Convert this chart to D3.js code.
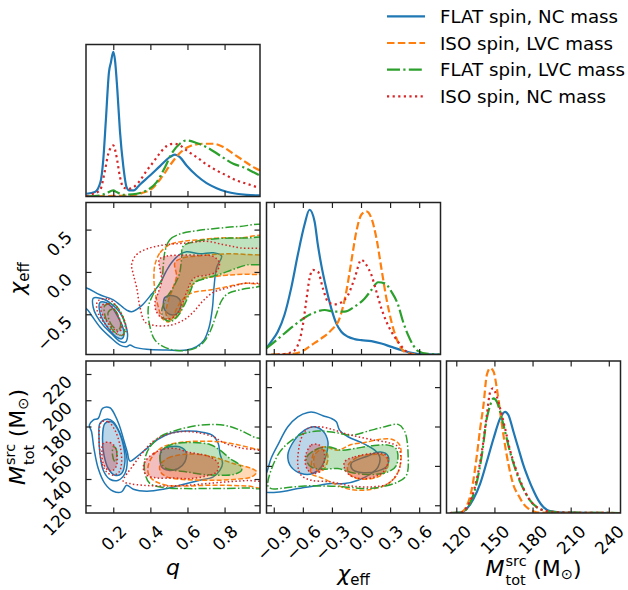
<!DOCTYPE html>
<html><head><meta charset="utf-8">
<script src="https://cdn.jsdelivr.net/npm/d3@7"></script>
<style>
html,body{margin:0;padding:0;background:#fff;}
svg{display:block;}
</style></head><body>
<svg id="chart" width="628" height="590"></svg>
<script>
// ---------------- DATA ----------------
const seriesNames = ["FLAT spin, NC mass", "ISO spin, LVC mass", "FLAT spin, LVC mass", "ISO spin, NC mass"];

// axis limits and ticks
const qLimits = [0.053, 0.991];
const chiLimits = [-0.975, 0.82];
const mLimitsX = [112.3, 249.2];
const mLimitsY = [114.1, 229.9];
const qTicks = [0.2, 0.4, 0.6, 0.8];
const chiTicksX = [-0.9, -0.6, -0.3, 0.0, 0.3, 0.6];
const chiTicksY = [-0.5, 0.0, 0.5];
const mTicksX = [120, 150, 180, 210, 240];
const mTicksYcol1 = [120, 140, 160, 180, 200, 220];
const mTicksYcol2 = [120, 150, 180, 210];

// 1D marginals: [value, relative density]
const margQ_flatNC = [[0.056,0.018],[0.101,0.029],[0.131,0.095],[0.146,0.24],[0.160,0.5],[0.177,0.82],[0.187,0.88],[0.2,0.952],[0.209,0.9],[0.222,0.70],[0.236,0.43],[0.254,0.2],[0.272,0.06],[0.286,0.04],[0.31,0.04],[0.344,0.079],[0.398,0.138],[0.452,0.2],[0.505,0.259],[0.532,0.275],[0.559,0.259],[0.595,0.204],[0.649,0.138],[0.703,0.088],[0.757,0.055],[0.811,0.031],[0.865,0.018],[0.919,0.011],[0.99,0.007]];
const margQ_isoLVC = [[0.056,0.0],[0.2,0.004],[0.29,0.007],[0.353,0.022],[0.407,0.05],[0.461,0.127],[0.505,0.204],[0.559,0.286],[0.613,0.33],[0.685,0.347],[0.739,0.347],[0.793,0.325],[0.847,0.281],[0.901,0.237],[0.955,0.193],[0.991,0.171]];
const margQ_flatLVC = [[0.056,0.0],[0.128,0.007],[0.164,0.022],[0.2,0.04],[0.218,0.029],[0.254,0.011],[0.326,0.018],[0.38,0.04],[0.434,0.095],[0.479,0.193],[0.514,0.281],[0.559,0.347],[0.595,0.369],[0.649,0.352],[0.703,0.325],[0.775,0.27],[0.847,0.215],[0.901,0.193],[0.955,0.16],[0.991,0.138]];
const margQ_isoNC = [[0.056,0.0],[0.092,0.018],[0.128,0.04],[0.155,0.17],[0.173,0.28],[0.2,0.336],[0.218,0.26],[0.236,0.13],[0.254,0.06],[0.281,0.05],[0.308,0.06],[0.344,0.105],[0.38,0.17],[0.416,0.226],[0.452,0.286],[0.488,0.332],[0.523,0.347],[0.559,0.336],[0.595,0.303],[0.649,0.259],[0.703,0.211],[0.757,0.171],[0.811,0.138],[0.865,0.105],[0.919,0.084],[0.973,0.062]];

const margChi_flatNC = [[-0.979,0.039],[-0.928,0.083],[-0.859,0.149],[-0.79,0.259],[-0.721,0.434],[-0.652,0.654],[-0.583,0.851],[-0.531,0.95],[-0.479,0.873],[-0.445,0.719],[-0.41,0.588],[-0.359,0.434],[-0.307,0.303],[-0.255,0.204],[-0.203,0.149],[-0.134,0.116],[-0.066,0.101],[0.003,0.094],[0.107,0.088],[0.21,0.072],[0.314,0.05],[0.417,0.029],[0.521,0.011],[0.624,0.002],[0.814,0]];
const margChi_isoLVC = [[-0.928,0],[-0.721,0.004],[-0.617,0.018],[-0.514,0.061],[-0.41,0.105],[-0.307,0.16],[-0.221,0.237],[-0.152,0.412],[-0.1,0.61],[-0.048,0.807],[0.003,0.917],[0.055,0.939],[0.107,0.895],[0.159,0.763],[0.21,0.566],[0.262,0.368],[0.314,0.215],[0.366,0.105],[0.417,0.039],[0.486,0.007],[0.59,0]];
const margChi_flatLVC = [[-0.979,0.039],[-0.893,0.083],[-0.79,0.138],[-0.686,0.193],[-0.583,0.241],[-0.479,0.276],[-0.376,0.292],[-0.272,0.281],[-0.169,0.281],[-0.066,0.314],[0.038,0.368],[0.107,0.423],[0.176,0.474],[0.245,0.467],[0.314,0.412],[0.383,0.325],[0.434,0.215],[0.486,0.127],[0.538,0.061],[0.59,0.022],[0.693,0.004],[0.814,0]];
const margChi_isoNC = [[-0.859,0],[-0.721,0.013],[-0.652,0.061],[-0.6,0.193],[-0.566,0.346],[-0.531,0.5],[-0.497,0.555],[-0.445,0.544],[-0.393,0.434],[-0.341,0.346],[-0.272,0.329],[-0.203,0.342],[-0.134,0.39],[-0.066,0.5],[0.003,0.621],[0.055,0.588],[0.107,0.522],[0.159,0.412],[0.21,0.303],[0.262,0.215],[0.314,0.149],[0.383,0.083],[0.452,0.029],[0.521,0]];

const margM_flatNC = [[115,0],[123.1,0.002],[128.4,0.029],[133.6,0.094],[138.8,0.193],[144.0,0.336],[149.3,0.489],[154.5,0.621],[158.4,0.664],[161.0,0.643],[165.0,0.533],[168.9,0.423],[172.8,0.314],[176.7,0.226],[180.6,0.149],[184.6,0.083],[188.5,0.039],[193.7,0.013],[201.6,0.004],[212.0,0.002],[249,0]];
const margM_isoLVC = [[115,0],[123.1,0.002],[128.4,0.05],[132.3,0.16],[136.2,0.379],[138.8,0.555],[141.4,0.708],[144.0,0.906],[146.7,0.95],[149.3,0.928],[151.9,0.818],[154.5,0.664],[157.1,0.511],[159.7,0.379],[162.3,0.27],[165.0,0.182],[168.9,0.116],[172.8,0.061],[176.7,0.029],[180.6,0.011],[185.9,0.002],[249,0]];
const margM_flatLVC = [[115,0],[123.1,0.002],[128.4,0.029],[132.3,0.094],[136.2,0.204],[140.1,0.379],[144.0,0.62],[146.7,0.708],[149.3,0.752],[151.9,0.73],[154.5,0.664],[158.4,0.533],[162.3,0.401],[166.3,0.292],[170.2,0.204],[174.1,0.138],[178.0,0.083],[183.3,0.039],[188.5,0.018],[196.3,0.007],[212.0,0.002],[249,0]];
const margM_isoNC = [[115,0],[123.1,0.002],[128.4,0.039],[132.3,0.105],[136.2,0.226],[140.1,0.401],[144.0,0.642],[146.7,0.796],[148.8,0.818],[151.9,0.763],[154.5,0.686],[158.4,0.555],[162.3,0.412],[166.3,0.303],[170.2,0.215],[174.1,0.138],[178.0,0.083],[183.3,0.039],[188.5,0.018],[196.3,0.007],[212.0,0.002],[249,0]];

// 2D credible-region contours: [x, y] in data units
// q vs chi_eff
const qChi_flatNC_fill = [
  [[0.128,-0.36],[0.160,-0.36],[0.191,-0.41],[0.222,-0.52],[0.248,-0.63],[0.258,-0.74],[0.245,-0.79],[0.218,-0.77],[0.185,-0.70],[0.152,-0.60],[0.128,-0.48]],
  [[0.479,-0.300],[0.523,-0.280],[0.556,-0.319],[0.563,-0.416],[0.541,-0.494],[0.505,-0.502],[0.479,-0.455],[0.470,-0.377]]
];
const qChi_flatNC_lines = [
  [[0.092,-0.31],[0.146,-0.32],[0.191,-0.38],[0.236,-0.48],[0.266,-0.62],[0.277,-0.76],[0.266,-0.83],[0.236,-0.82],[0.191,-0.73],[0.146,-0.63],[0.110,-0.52],[0.092,-0.42]],
  [[0.0,-0.16],[0.056,-0.19],[0.128,-0.27],[0.2,-0.33],[0.272,-0.45],[0.299,-0.47],[0.353,-0.397],[0.407,-0.261],[0.452,-0.136],[0.484,0.004],[0.514,0.109],[0.559,0.206],[0.595,0.237],[0.667,0.214],[0.739,0.226],[0.784,0.187],[0.757,0.051],[0.743,-0.183],[0.735,-0.416],[0.717,-0.650],[0.689,-0.805],[0.649,-0.883],[0.595,-0.922],[0.488,-0.922],[0.380,-0.914],[0.317,-0.891],[0.290,-0.864],[0.272,-0.883],[0.236,-0.864],[0.182,-0.767],[0.128,-0.650],[0.083,-0.514],[0.056,-0.436],[0.0,-0.40]]
];
const qChi_isoLVC_fill = [
  [[0.532,0.109],[0.577,0.167],[0.649,0.187],[0.739,0.206],[0.829,0.214],[0.919,0.206],[1.02,0.175],[1.02,-0.008],[0.901,-0.027],[0.811,-0.039],[0.739,-0.058],[0.667,-0.086],[0.622,-0.163],[0.595,-0.280],[0.568,-0.436],[0.541,-0.533],[0.505,-0.564],[0.484,-0.494],[0.497,-0.339],[0.523,-0.183],[0.541,-0.047]]
];
const qChi_isoLVC_lines = [
  [[0.425,0.089],[0.452,0.226],[0.505,0.323],[0.577,0.362],[0.667,0.381],[0.775,0.401],[0.883,0.401],[1.02,0.409],[1.02,-0.113],[0.901,-0.136],[0.811,-0.175],[0.721,-0.214],[0.631,-0.241],[0.577,-0.319],[0.541,-0.436],[0.523,-0.533],[0.497,-0.591],[0.466,-0.553],[0.443,-0.416],[0.425,-0.222],[0.419,-0.066]]
];
const qChi_flatLVC_fill = [
  [[0.577,0.304],[0.649,0.362],[0.739,0.389],[0.829,0.401],[0.919,0.401],[1.02,0.393],[1.02,0.109],[0.919,0.082],[0.847,0.031],[0.775,-0.027],[0.703,-0.074],[0.640,-0.125],[0.613,-0.241],[0.586,-0.377],[0.550,-0.514],[0.514,-0.580],[0.479,-0.564],[0.461,-0.475],[0.479,-0.339],[0.523,-0.183],[0.556,-0.027],[0.568,0.148]]
];
const qChi_flatLVC_lines = [
  [[0.479,0.245],[0.505,0.381],[0.559,0.448],[0.649,0.487],[0.775,0.518],[0.883,0.537],[1.02,0.537],[1.02,-0.125],[0.901,-0.202],[0.820,-0.253],[0.784,-0.339],[0.757,-0.494],[0.725,-0.689],[0.689,-0.825],[0.640,-0.903],[0.559,-0.930],[0.479,-0.891],[0.425,-0.805],[0.398,-0.650],[0.389,-0.416],[0.416,-0.261],[0.461,-0.086],[0.470,0.089]],
  [[0.155,-0.397],[0.2,-0.377],[0.245,-0.494],[0.263,-0.650],[0.250,-0.747],[0.218,-0.728],[0.178,-0.630],[0.155,-0.514]],
  [[0.173,-0.475],[0.2,-0.436],[0.227,-0.514],[0.240,-0.630],[0.227,-0.689],[0.2,-0.650],[0.178,-0.572]]
];
const qChi_isoNC_fill = [
  [[0.448,0.148],[0.488,0.187],[0.559,0.198],[0.649,0.198],[0.739,0.183],[0.772,0.109],[0.757,0.004],[0.703,-0.039],[0.640,-0.066],[0.613,-0.144],[0.592,-0.261],[0.568,-0.397],[0.541,-0.502],[0.505,-0.553],[0.461,-0.541],[0.430,-0.455],[0.425,-0.358],[0.443,-0.241],[0.461,-0.105],[0.452,0.031]],
  [[0.137,-0.397],[0.173,-0.377],[0.209,-0.455],[0.236,-0.572],[0.245,-0.669],[0.227,-0.708],[0.191,-0.650],[0.155,-0.553],[0.134,-0.455]]
];
const qChi_isoNC_lines = [
  [[0.119,-0.339],[0.173,-0.319],[0.227,-0.436],[0.263,-0.591],[0.268,-0.708],[0.245,-0.747],[0.2,-0.708],[0.155,-0.611],[0.119,-0.494],[0.110,-0.397]],
  [[0.299,0.089],[0.326,0.206],[0.398,0.284],[0.488,0.323],[0.595,0.342],[0.703,0.362],[0.793,0.323],[0.883,0.284],[1.02,0.245],[1.02,-0.105],[0.901,-0.136],[0.811,-0.191],[0.739,-0.241],[0.685,-0.339],[0.631,-0.475],[0.577,-0.572],[0.505,-0.630],[0.416,-0.630],[0.371,-0.591],[0.344,-0.416],[0.326,-0.183],[0.308,-0.027]]
];

// q vs total mass
const qM_flatNC_fill = [
  [[0.155,182.3],[0.191,183.6],[0.227,177.2],[0.254,165.8],[0.263,153.1],[0.245,144.2],[0.209,142.9],[0.173,148.0],[0.150,158.2],[0.142,170.9]],
  [[0.461,162.0],[0.505,164.5],[0.559,164.5],[0.592,160.7],[0.586,153.1],[0.550,148.0],[0.497,146.7],[0.461,149.2],[0.452,155.6]]
];
const qM_flatNC_lines = [
  [[0.128,182.3],[0.164,185.6],[0.2,183.6],[0.236,174.7],[0.263,163.2],[0.275,153.1],[0.263,144.2],[0.227,139.1],[0.182,139.8],[0.146,146.7],[0.128,159.4],[0.123,172.2]],
  [[0.071,181.1],[0.092,184.9],[0.119,186.2],[0.142,193.8],[0.182,194.3],[0.209,188.7],[0.232,181.1],[0.254,170.9],[0.275,160.7],[0.290,153.6],[0.326,156.9],[0.380,163.2],[0.443,170.4],[0.505,174.7],[0.595,176.5],[0.685,175.5],[0.739,172.9],[0.766,167.1],[0.775,159.4],[0.789,151.8],[0.775,146.7],[0.739,141.6],[0.667,139.1],[0.559,135.2],[0.470,132.2],[0.380,130.7],[0.308,132.2],[0.272,135.2],[0.245,130.2],[0.2,130.7],[0.155,136.5],[0.119,148.0],[0.096,163.2],[0.083,176.0]]
];
const qM_isoLVC_fill = [
  [[0.452,150.5],[0.497,156.1],[0.577,158.7],[0.667,158.7],[0.757,156.1],[0.847,151.8],[0.937,148.5],[0.973,145.4],[0.946,141.6],[0.865,139.8],[0.775,139.1],[0.667,139.1],[0.559,139.8],[0.488,141.6],[0.455,145.4]]
];
const qM_isoLVC_lines = [
  [[0.389,150.5],[0.416,158.2],[0.470,164.5],[0.559,167.8],[0.667,168.8],[0.775,168.3],[0.865,166.3],[0.955,163.2],[1.02,160.7],[1.02,134.0],[0.919,134.7],[0.811,135.2],[0.703,135.2],[0.595,134.7],[0.488,135.2],[0.416,139.1],[0.389,144.2]]
];
const qM_flatLVC_fill = [
  [[0.452,158.2],[0.479,163.8],[0.541,167.1],[0.631,167.8],[0.721,166.3],[0.775,162.0],[0.829,155.6],[0.883,150.5],[0.892,146.7],[0.847,143.4],[0.775,142.9],[0.685,143.4],[0.595,145.4],[0.523,146.7],[0.479,148.5],[0.455,153.1]]
];
const qM_flatLVC_lines = [
  [[0.371,155.6],[0.398,164.5],[0.452,172.2],[0.541,177.2],[0.649,180.6],[0.739,181.6],[0.811,180.6],[0.883,177.2],[0.955,172.2],[1.02,168.3],[1.02,134.0],[0.919,133.2],[0.793,132.7],[0.703,132.7],[0.595,132.7],[0.488,133.2],[0.398,136.5],[0.371,144.2]],
  [[0.2,164.5],[0.214,163.2],[0.218,155.6],[0.209,153.1],[0.196,158.2]]
];
const qM_isoNC_fill = [
  [[0.146,167.1],[0.182,167.8],[0.209,164.5],[0.221,158.2],[0.218,150.5],[0.2,146.7],[0.173,146.7],[0.146,151.8],[0.139,159.4]],
  [[0.371,153.1],[0.416,159.4],[0.470,162.7],[0.541,163.2],[0.595,160.7],[0.649,159.4],[0.721,156.9],[0.766,151.8],[0.757,145.4],[0.703,142.4],[0.613,140.3],[0.523,140.8],[0.434,140.8],[0.380,142.9],[0.362,148.0]]
];
const qM_isoNC_lines = [
  [[0.137,183.6],[0.173,183.6],[0.209,177.2],[0.236,165.8],[0.245,153.1],[0.232,145.4],[0.2,142.9],[0.164,145.4],[0.137,153.1],[0.125,165.8],[0.125,177.2]],
  [[0.254,138.3],[0.308,150.5],[0.362,160.7],[0.416,168.8],[0.479,173.4],[0.559,176.0],[0.649,175.5],[0.739,172.2],[0.793,167.8],[0.883,163.8],[1.02,159.4],[1.02,139.8],[0.919,138.8],[0.811,137.8],[0.703,136.5],[0.595,135.2],[0.470,134.7],[0.362,135.2],[0.290,136.5]]
];

// chi_eff vs total mass
const chiM_flatNC_fill = [
  [[-0.755,158.2],[-0.686,169.6],[-0.583,177.2],[-0.479,179.8],[-0.393,176.5],[-0.341,168.3],[-0.359,158.2],[-0.410,149.2],[-0.497,144.2],[-0.617,144.2],[-0.721,149.2]]
];
const chiM_flatNC_lines = [
  [[-1.03,140],[-0.979,144.2],[-0.928,155.6],[-0.859,165.8],[-0.755,179.8],[-0.652,187.4],[-0.548,190.7],[-0.479,190.7],[-0.393,188.2],[-0.307,186.2],[-0.255,183.6],[-0.221,177.2],[-0.134,172.2],[0.003,167.8],[0.141,162.0],[0.193,156.9],[0.176,149.2],[0.107,144.2],[-0.031,139.1],[-0.169,136.5],[-0.307,136.5],[-0.479,134.7],[-0.652,132.7],[-0.790,130.7],[-0.928,129.7],[-1.03,131]],
  [[-0.1,152],[0.05,157],[0.2,160.5],[0.28,157.5],[0.27,150],[0.17,146],[0.0,145],[-0.09,147.5]]
];
const chiM_isoLVC_fill = [
  [[-0.479,158.2],[-0.410,162.5],[-0.359,161],[-0.341,155.6],[-0.376,148.0],[-0.428,145.4],[-0.479,149.2]],
  [[-0.134,150.5],[-0.031,156.9],[0.107,158.7],[0.228,158.2],[0.279,154.3],[0.262,146.7],[0.176,141.6],[0.038,139.8],[-0.083,141.6],[-0.134,145.4]]
];
const chiM_isoLVC_lines = [
  [[-0.514,150],[-0.479,161],[-0.376,164.5],[-0.238,162.0],[-0.1,166.3],[0.038,167.8],[0.21,170.4],[0.331,169.9],[0.4,165.8],[0.410,153.1],[0.366,142.9],[0.279,136.5],[0.141,132.7],[-0.031,131.4],[-0.169,133.2],[-0.307,137.5],[-0.410,141],[-0.514,144]]
];
const chiM_flatLVC_fill = [
  [[-0.566,155.6],[-0.479,162.0],[-0.341,164.5],[-0.203,162.0],[-0.066,163.2],[0.107,165.3],[0.279,165.8],[0.366,162.7],[0.366,150.5],[0.279,145.4],[0.107,143.4],[-0.1,144.9],[-0.238,148.0],[-0.376,147.5],[-0.514,149.2]]
];
const chiM_flatLVC_lines = [
  [[-0.962,135.2],[-0.859,158.2],[-0.755,167.1],[-0.617,173.9],[-0.445,176.5],[-0.272,175.5],[-0.1,173.4],[0.072,176.5],[0.245,179.8],[0.383,181.6],[0.452,176.0],[0.486,158.2],[0.469,142.9],[0.383,137.8],[0.21,134.0],[0.038,132.7],[-0.169,134.0],[-0.376,134.7],[-0.583,134.7],[-0.790,133.2],[-0.928,132.7]]
];
const chiM_isoNC_fill = [
  [[-0.566,159.4],[-0.514,165.8],[-0.445,166.3],[-0.393,163.2],[-0.376,155.6],[-0.410,146.7],[-0.479,144.2],[-0.548,146.7],[-0.576,153.1]],
  [[-0.169,153.1],[-0.066,156.9],[0.107,159.4],[0.228,159.4],[0.279,155.6],[0.245,146.7],[0.141,141.6],[0.003,140.3],[-0.117,142.9],[-0.169,148.0]]
];
const chiM_isoNC_lines = [
  [[-0.652,150.5],[-0.617,170.9],[-0.548,178.5],[-0.445,179.8],[-0.307,178.0],[-0.169,174.7],[-0.031,172.2],[0.141,169.6],[0.279,167.8],[0.383,164.5],[0.410,155.6],[0.383,145.4],[0.279,136.5],[0.107,134.0],[-0.1,134.7],[-0.307,137.8],[-0.514,139.1],[-0.617,142.9]]
];

// ---------------- STYLE ----------------
const seriesColors = ["#1f77b4", "#ff7f0e", "#2ca02c", "#d62728"];
const dash1D = [null, "7.5,3.3", "13,3.3,2.2,3.3", "2.2,3.4"];
const dash2D = [null, "5,2.2", "8.5,2.2,1.5,2.2", "1.5,2.3"];
const FONT = "'DejaVu Sans', sans-serif";
const TICK = 5.5, TICKFONT = 17;
const frameColor = "#222";

// ---------------- LAYOUT ----------------
const svg = d3.select("#chart");
const defs = svg.append("defs");
const colX = [86, 266.5, 446.5], colW = 174;
const rowY = [44.5, 202.5, 361], rowH = 152;

const xScales = [qLimits, chiLimits, mLimitsX].map((d, i) =>
  d3.scaleLinear().domain(d).range([colX[i], colX[i] + colW]));
const yScales = [null,
  d3.scaleLinear().domain(chiLimits).range([rowY[1] + rowH, rowY[1]]),
  d3.scaleLinear().domain(mLimitsY).range([rowY[2] + rowH, rowY[2]])];

const fmtQ = d3.format(".1f"), fmtChi = d3.format(".1f"), fmtM = d3.format("d");

function clip(c, r) {
  const id = `clip${c}${r}`;
  defs.append("clipPath").attr("id", id).append("rect")
    .attr("x", colX[c]).attr("y", rowY[r]).attr("width", colW).attr("height", rowH);
  return `url(#${id})`;
}

function styleAxis(g) {
  g.select(".domain").remove();
  g.attr("font-family", FONT).attr("font-size", TICKFONT).attr("color", frameColor);
  g.selectAll(".tick line").attr("stroke-width", 1.2);
  g.selectAll(".tick text").attr("fill", "#000");
}

function axesFor(c, r, xT, yT, labelBottom, labelLeft, xFmt, yFmt) {
  const x = xScales[c];
  const top = rowY[r], bot = rowY[r] + rowH, left = colX[c], right = colX[c] + colW;
  const gT = svg.append("g").attr("transform", `translate(0,${top})`)
    .call(d3.axisTop(x).tickValues(xT).tickSize(-TICK).tickFormat(() => ""));
  styleAxis(gT);
  const gB = svg.append("g").attr("transform", `translate(0,${bot})`)
    .call(d3.axisBottom(x).tickValues(xT).tickSize(-TICK).tickFormat(labelBottom ? xFmt : () => ""));
  styleAxis(gB);
  if (labelBottom) {
    gB.selectAll(".tick text").each(function () {
      const L = this.getComputedTextLength();
      const ext = (L + 0.73 * TICKFONT) * 0.7071;
      d3.select(this).attr("y", null).attr("dy", null).attr("x", 0)
        .attr("text-anchor", "middle").attr("dominant-baseline", "central")
        .attr("transform", `translate(0,${11 + ext / 2}) rotate(-45)`);
    });
  }
  if (yT) {
    const y = yScales[r];
    const gL = svg.append("g").attr("transform", `translate(${left},0)`)
      .call(d3.axisLeft(y).tickValues(yT).tickSize(-TICK).tickFormat(labelLeft ? yFmt : () => ""));
    styleAxis(gL);
    if (labelLeft) {
      gL.selectAll(".tick text").attr("x", 0).attr("dy", null)
        .attr("text-anchor", "end").attr("dominant-baseline", "central")
        .attr("transform", "translate(-17,4) rotate(-45)");
    }
    const gR = svg.append("g").attr("transform", `translate(${right},0)`)
      .call(d3.axisRight(y).tickValues(yT).tickSize(-TICK).tickFormat(() => ""));
    styleAxis(gR);
  }
  svg.append("rect").attr("x", left).attr("y", top).attr("width", colW).attr("height", rowH)
    .attr("fill", "none").attr("stroke", frameColor).attr("stroke-width", 1.5);
}

// ---------- marginal panels ----------
function marginal(c, r, sets) {
  const x = xScales[c];
  const ymax = d3.max(sets, s => d3.max(s, d => d[1]));
  const y = d3.scaleLinear().domain([0, ymax * 1.05]).range([rowY[r] + rowH, rowY[r]]);
  const g = svg.append("g").attr("clip-path", clip(c, r));
  const line = d3.line().x(d => x(d[0])).y(d => y(d[1])).curve(d3.curveMonotoneX);
  sets.forEach((s, i) => {
    g.append("path").datum(s).attr("d", line).attr("fill", "none")
      .attr("stroke", seriesColors[i]).attr("stroke-width", 2.2)
      .attr("stroke-dasharray", dash1D[i]).attr("stroke-linejoin", "round");
  });
}

// ---------- 2D panels ----------
function joint(c, r, fills, lines) {
  const x = xScales[c], y = yScales[r];
  const g = svg.append("g").attr("clip-path", clip(c, r));
  const path = d3.line().x(d => x(d[0])).y(d => y(d[1])).curve(d3.curveCatmullRomClosed.alpha(0.5));
  for (let i = 0; i < 4; i++) {
    fills[i].forEach(poly => {
      g.append("path").datum(poly).attr("d", path)
        .attr("fill", seriesColors[i]).attr("fill-opacity", 0.3)
        .attr("stroke", seriesColors[i]).attr("stroke-width", 1.5)
        .attr("stroke-dasharray", dash2D[i]);
    });
    lines[i].forEach(poly => {
      g.append("path").datum(poly).attr("d", path).attr("fill", "none")
        .attr("stroke", seriesColors[i]).attr("stroke-width", 1.5)
        .attr("stroke-dasharray", dash2D[i]);
    });
  }
}

marginal(0, 0, [margQ_flatNC, margQ_isoLVC, margQ_flatLVC, margQ_isoNC]);
axesFor(0, 0, qTicks, null, false, false);

joint(0, 1, [qChi_flatNC_fill, qChi_isoLVC_fill, qChi_flatLVC_fill, qChi_isoNC_fill],
            [qChi_flatNC_lines, qChi_isoLVC_lines, qChi_flatLVC_lines, qChi_isoNC_lines]);
axesFor(0, 1, qTicks, chiTicksY, false, true, fmtQ, fmtChi);

marginal(1, 1, [margChi_flatNC, margChi_isoLVC, margChi_flatLVC, margChi_isoNC]);
axesFor(1, 1, chiTicksX, null, false, false);

joint(0, 2, [qM_flatNC_fill, qM_isoLVC_fill, qM_flatLVC_fill, qM_isoNC_fill],
            [qM_flatNC_lines, qM_isoLVC_lines, qM_flatLVC_lines, qM_isoNC_lines]);
axesFor(0, 2, qTicks, mTicksYcol1, true, true, fmtQ, fmtM);

joint(1, 2, [chiM_flatNC_fill, chiM_isoLVC_fill, chiM_flatLVC_fill, chiM_isoNC_fill],
            [chiM_flatNC_lines, chiM_isoLVC_lines, chiM_flatLVC_lines, chiM_isoNC_lines]);
axesFor(1, 2, chiTicksX, mTicksYcol2, true, false, fmtChi, fmtM);

marginal(2, 2, [margM_flatNC, margM_isoLVC, margM_flatLVC, margM_isoNC]);
axesFor(2, 2, mTicksX, null, true, false, fmtM);

// ---------- axis labels ----------
const lab = svg.append("g").attr("font-family", FONT).attr("fill", "#000");
lab.append("text").attr("x", colX[0] + colW / 2).attr("y", 575).attr("text-anchor", "middle")
  .attr("font-size", 22).attr("font-style", "italic").text("q");

function chiLabel(t) {
  t.append("tspan").attr("font-style", "italic").text("χ");
  t.append("tspan").attr("font-size", 15).attr("dy", 4).text("eff");
}
// total-mass label built from separate pieces (stacked super/subscript)
function massLabel(g) {
  const fs = 22, sub = 14.5;
  const inner = g.append("g");
  let x = 0;
  const piece = (txt, size, dy, italic) => {
    const t = inner.append("text").attr("x", x).attr("y", dy).attr("font-size", size)
      .attr("font-style", italic ? "italic" : null).text(txt);
    return t.node().getComputedTextLength();
  };
  x += piece("M", fs, 0, true) + 1;
  const w1 = piece("src", sub, -10.5, false);
  const w2 = piece("tot", sub, 8.5, false);
  x += Math.max(w1, w2) + 6.5;
  x += piece("(M", fs, 0, false);
  x += piece("⊙", sub, 3, false);
  x += piece(")", fs, 0, false);
  inner.attr("transform", `translate(${-x / 2},0)`);
}
chiLabel(lab.append("text").attr("x", colX[1] + colW / 2).attr("y", 581)
  .attr("text-anchor", "middle").attr("font-size", 22));
massLabel(lab.append("g").attr("transform", `translate(${colX[2] + colW / 2},576)`));
chiLabel(lab.append("text").attr("transform", `translate(25,${rowY[1] + rowH / 2}) rotate(-90)`)
  .attr("text-anchor", "middle").attr("font-size", 22));
massLabel(lab.append("g").attr("transform", `translate(25,${rowY[2] + rowH / 2}) rotate(-90)`));

// ---------- legend ----------
const leg = svg.append("g").attr("font-family", FONT).attr("font-size", 18.2);
seriesNames.forEach((name, i) => {
  const yy = 16.3 + i * 26.7;
  leg.append("line").attr("x1", 387).attr("x2", 425).attr("y1", yy).attr("y2", yy)
    .attr("stroke", seriesColors[i]).attr("stroke-width", 2.2).attr("stroke-dasharray", dash1D[i]);
  leg.append("text").attr("x", 440).attr("y", yy + 6.6).attr("fill", "#000").text(name);
});
</script></body></html>
